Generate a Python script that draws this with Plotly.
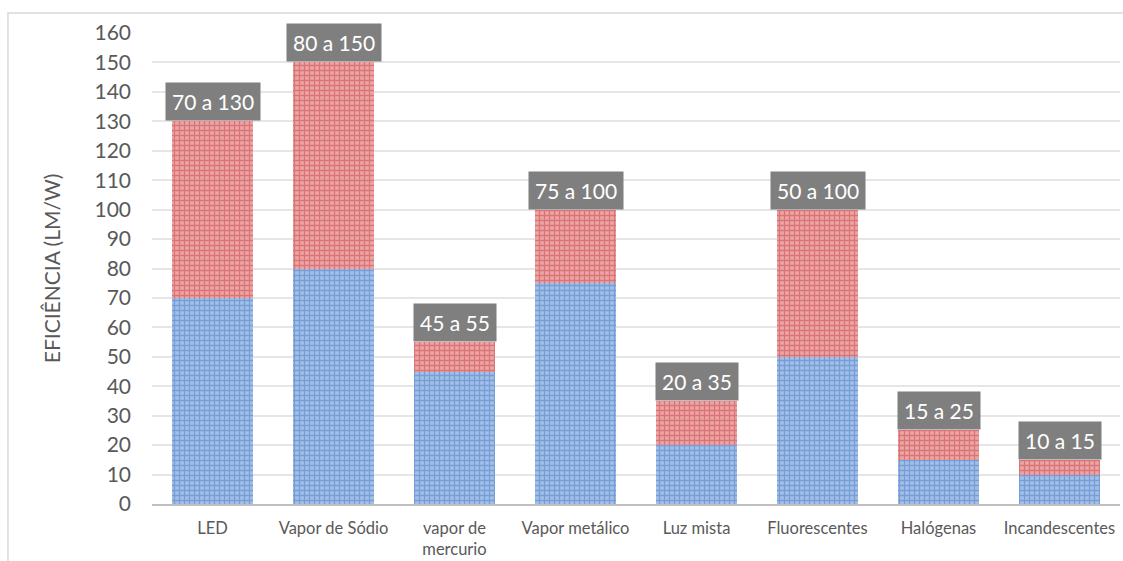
import plotly.graph_objects as go

# Luminous efficiency ranges (lm/W) per lamp type
categories = ["LED", "Vapor de Sódio", "vapor de<br>mercurio", "Vapor metálico",
              "Luz mista", "Fluorescentes", "Halógenas", "Incandescentes"]
eff_min = [70, 80, 45, 75, 20, 50, 15, 10]
eff_max = [130, 150, 55, 100, 35, 100, 25, 15]
eff_span = [hi - lo for lo, hi in zip(eff_min, eff_max)]

FONT = "Lato, 'Open Sans', sans-serif"
GREY_TXT = "#595959"

fig = go.Figure()
fig.add_bar(
    x=categories, y=eff_min, name="mínimo",
    marker=dict(color="#9fbde8", line=dict(width=0),
                pattern=dict(shape="+", fgcolor="#4a7cc2", bgcolor="#a2bfe8",
                             size=5, solidity=0.45)),
)
fig.add_bar(
    x=categories, y=eff_span, name="faixa",
    marker=dict(color="#e9a0a0", line=dict(width=0),
                pattern=dict(shape="+", fgcolor="#cc4447", bgcolor="#eba5a5",
                             size=5, solidity=0.45)),
)

for cat, lo, hi in zip(categories, eff_min, eff_max):
    fig.add_annotation(
        x=cat, y=hi, text=f"{lo} a {hi}", showarrow=False,
        yanchor="bottom", xanchor="center", yshift=0,
        bgcolor="#7f7f7f", borderpad=6,
        font=dict(family=FONT, size=21, color="white"),
    )

# outer chart frame (top and left edges visible)
fig.add_shape(type="rect", xref="paper", yref="paper",
              x0=-0.1488, x1=1.05, y0=-0.3, y1=1.0425,
              line=dict(color="#d9d9d9", width=1.5), layer="below")

fig.update_layout(
    barmode="stack",
    bargap=0.33,
    showlegend=False,
    width=1123, height=561,
    margin=dict(l=152, r=3, t=33, b=57),
    plot_bgcolor="white", paper_bgcolor="white",
    font=dict(family=FONT, color=GREY_TXT),
    xaxis=dict(showline=True, linecolor="#bfbfbf", linewidth=1.5,
               tickfont=dict(size=16.5, color=GREY_TXT), ticks="",
               ticklabelstandoff=8),
    yaxis=dict(range=[0, 160], dtick=10, showgrid=True, gridcolor="#e6e6e6",
               gridwidth=1.5, zeroline=False, ticks="",
               tickfont=dict(size=21, color=GREY_TXT), ticklabelstandoff=20,
               title=dict(text="EFICIÊNCIA (LM/W)", standoff=28,
                          font=dict(size=21, color=GREY_TXT))),
)

fig.write_html("out.html")
